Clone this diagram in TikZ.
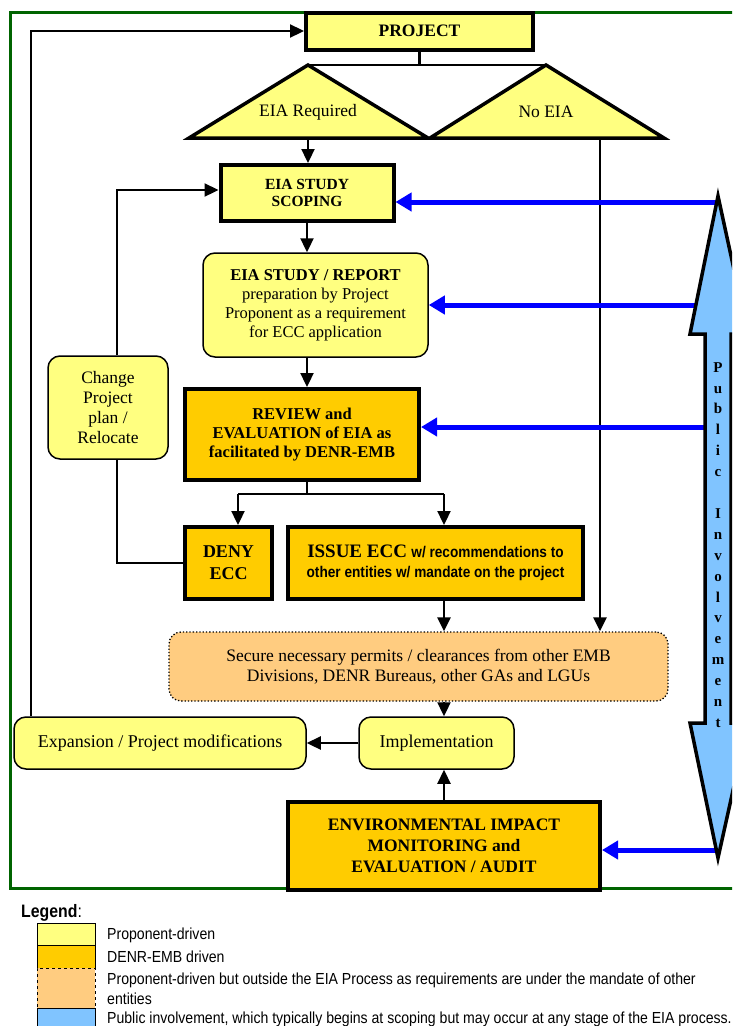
\documentclass[tikz,border=0pt]{standalone}
\usepackage{fontspec}
\setmainfont{Liberation Serif}
\newfontfamily\narrowsans[FakeStretch=0.88]{Liberation Sans}
\usetikzlibrary{arrows.meta}
\definecolor{propyellow}{RGB}{255,255,128}
\definecolor{denrorange}{RGB}{255,204,0}
\definecolor{outsidepeach}{RGB}{255,204,128}
\definecolor{publicblue}{RGB}{128,196,255}
\definecolor{framegreen}{RGB}{0,100,0}
\begin{document}
\begin{tikzpicture}
[x=1pt,y=-1pt,font=\fontsize{17.5}{20}\selectfont,
  propbox/.style={shape=rectangle,draw,line width=4pt,fill=propyellow,align=center,inner sep=0pt},
  denrbox/.style={shape=rectangle,draw,line width=4pt,fill=denrorange,align=center,inner sep=0pt},
  roundbox/.style={shape=rectangle,rounded corners=12pt,draw,line width=1.5pt,fill=propyellow,align=center,inner sep=0pt},
  outsidebox/.style={shape=rectangle,rounded corners=12pt,draw,dotted,line width=1.3pt,fill=outsidepeach,align=center,inner sep=0pt},
  trianglepath/.style={draw,line width=3.5pt,fill=propyellow},
  flowline/.style={-{Triangle[length=14pt,width=13pt]},line width=2.3pt},
  plainline/.style={-,line width=2.3pt},
  publine/.style={-{Triangle[length=16pt,width=18pt]},line width=5pt,blue},
  legendbox/.style={shape=rectangle,draw,line width=0.8pt,minimum width=58pt,inner sep=0pt},
  legendtext/.style={anchor=west,align=left,inner sep=0pt,font=\narrowsans\fontsize{16}{20}\selectfont}]
\clip (0,0) rectangle (732,1026);
%% frame
\draw[framegreen,line width=3pt] (10,12) rectangle (780,888);
%% nodes
\node (project) at (419.5,31) [propbox,minimum width=227pt,minimum height=37pt] {\textbf{PROJECT}};
\coordinate (reqtop) at (308,65);
\coordinate (noeiatop) at (546,65);
\coordinate (reqbase) at (308,138);
\coordinate (noeiabase) at (600,138);
\draw[plainline] (project.south) -- (project.south |- reqtop);
\draw[plainline] (reqtop) -- (noeiatop);
\draw[trianglepath] (reqtop) -- (428,138) -- (189,138) -- cycle;
\draw[trianglepath] (noeiatop) -- (664,138) -- (430,138) -- cycle;
\node (eiareq) at (308,112) {EIA Required};
\node (noeia) at (546,112) {No EIA};
\node (scoping) at (307,193) [propbox,minimum width=173pt,minimum height=56pt,font=\fontsize{15.5}{17.5}\selectfont] {\textbf{EIA STUDY}\\\textbf{SCOPING}};
\node (study) at (315.5,305) [roundbox,minimum width=225pt,minimum height=104pt,font=\fontsize{16.5}{19}\selectfont] {\textbf{EIA STUDY / REPORT}\\preparation by Project\\Proponent as a requirement\\for ECC application};
\node (review) at (302,434.5) [denrbox,minimum width=234pt,minimum height=91pt,font=\fontsize{16.5}{19}\selectfont] {\textbf{REVIEW and}\\\textbf{EVALUATION of EIA as}\\\textbf{facilitated by DENR-EMB}};
\node (change) at (108,407.5) [roundbox,minimum width=120pt,minimum height=103pt] {Change\\Project\\plan /\\Relocate};
\node (deny) at (228.5,563) [denrbox,minimum width=87pt,minimum height=72pt,font=\fontsize{18}{22}\selectfont] {\textbf{DENY}\\\textbf{ECC}};
\node (issue) at (435.5,563) [denrbox,minimum width=295pt,minimum height=72pt] {{\fontsize{19}{20}\selectfont\textbf{ISSUE ECC}} {\narrowsans\bfseries\fontsize{15.5}{18}\selectfont w/ recommendations to}\\{\narrowsans\bfseries\fontsize{15.5}{18}\selectfont other entities w/ mandate on the project}};
\node (secure) at (418.5,666.5) [outsidebox,minimum width=499pt,minimum height=69pt] {Secure necessary permits / clearances from other EMB\\Divisions, DENR Bureaus, other GAs and LGUs};
\node (expansion) at (160,743) [roundbox,minimum width=292pt,minimum height=52pt,font=\fontsize{18}{20}\selectfont] {Expansion / Project modifications};
\node (impl) at (436.5,743) [roundbox,minimum width=155pt,minimum height=52pt,font=\fontsize{18}{20}\selectfont] {Implementation};
\node (env) at (444,846) [denrbox,minimum width=312pt,minimum height=88pt,font=\fontsize{17.5}{21}\selectfont] {\textbf{ENVIRONMENTAL IMPACT}\\\textbf{MONITORING and}\\\textbf{EVALUATION / AUDIT}};
%% black connectors
\coordinate (split) at (307,494);
\coordinate (denyin) at (238,494);
\coordinate (issuein) at (444,494);
\coordinate (loopleft) at (31,31);
\coordinate (changeline) at (117,190);
\draw[flowline] (reqbase) -- (reqbase |- scoping.north);
\draw[flowline] (scoping.south) -- (scoping.south |- study.north);
\draw[flowline] (scoping.south |- study.south) -- (scoping.south |- review.north);
\draw[plainline] (scoping.south |- review.south) -- (split);
\draw[plainline] (denyin) -- (issuein);
\draw[flowline] (denyin) -- (denyin |- deny.north);
\draw[flowline] (issuein) -- (issuein |- issue.north);
\draw[flowline] (issuein |- issue.south) -- (issuein |- secure.north);
\draw[flowline] (noeiabase) -- (noeiabase |- secure.north);
\draw[flowline] (issuein |- secure.south) -- (issuein |- impl.north);
\draw[flowline] (impl.west) -- (expansion.east);
\draw[flowline] (issuein |- env.north) -- (issuein |- impl.south);
\draw[flowline] (loopleft |- expansion.north) -- (loopleft) -- (project.west);
\draw[flowline] (changeline |- change.north) -- (changeline) -- (changeline -| scoping.west);
\draw[plainline] (deny.west) -- (deny.west -| changeline) -- (changeline |- change.south);
%% public involvement
\coordinate (pia) at (718,202);
\coordinate (pib) at (697,305);
\coordinate (pic) at (705,427);
\coordinate (pid) at (716,850);
\path
\foreach \startnode/\endnode in {pia/scoping, pib/study, pic/review, pid/env} {
  (\startnode) edge[publine] (\startnode -| \endnode.east)
};
\draw[line width=3.5pt,fill=publicblue] (718,196) -- (748,334) -- (731,334) -- (731,723) -- (748,723)
  -- (718,858) -- (690,723) -- (705,723) -- (705,334) -- (690,334) -- cycle;
\node (pubinv) at (718,545) [align=center,inner sep=0pt,font=\bfseries\fontsize{15}{20.9}\selectfont] {P\\u\\b\\l\\i\\c\\[20.9pt]I\\n\\v\\o\\l\\v\\e\\m\\e\\n\\t};
%% legend
\node (legendtitle) at (21,913) [legendtext,font=\narrowsans\fontsize{18}{20}\selectfont] {\textbf{Legend}:};
\node (legprop) at (66,934) [legendbox,minimum height=22pt,fill=propyellow] {};
\node (legdenr) at (66,956.5) [legendbox,minimum height=23pt,fill=denrorange] {};
\node (legout) at (66,988) [legendbox,minimum height=40pt,fill=outsidepeach,dashed] {};
\node (legpub) at (66,1019) [legendbox,minimum height=22pt,fill=publicblue] {};
\node (legproptext) at (107,935) [legendtext] {Proponent-driven};
\node (legdenrtext) at (107,957) [legendtext] {DENR-EMB driven};
\node (legouttext) at (107,989) [legendtext] {Proponent-driven but outside the EIA Process as requirements are under the mandate of other\\entities};
\node (legpubtext) at (107,1019) [legendtext] {Public involvement, which typically begins at scoping but may occur at any stage of the EIA process.};
\end{tikzpicture}
\end{document}
